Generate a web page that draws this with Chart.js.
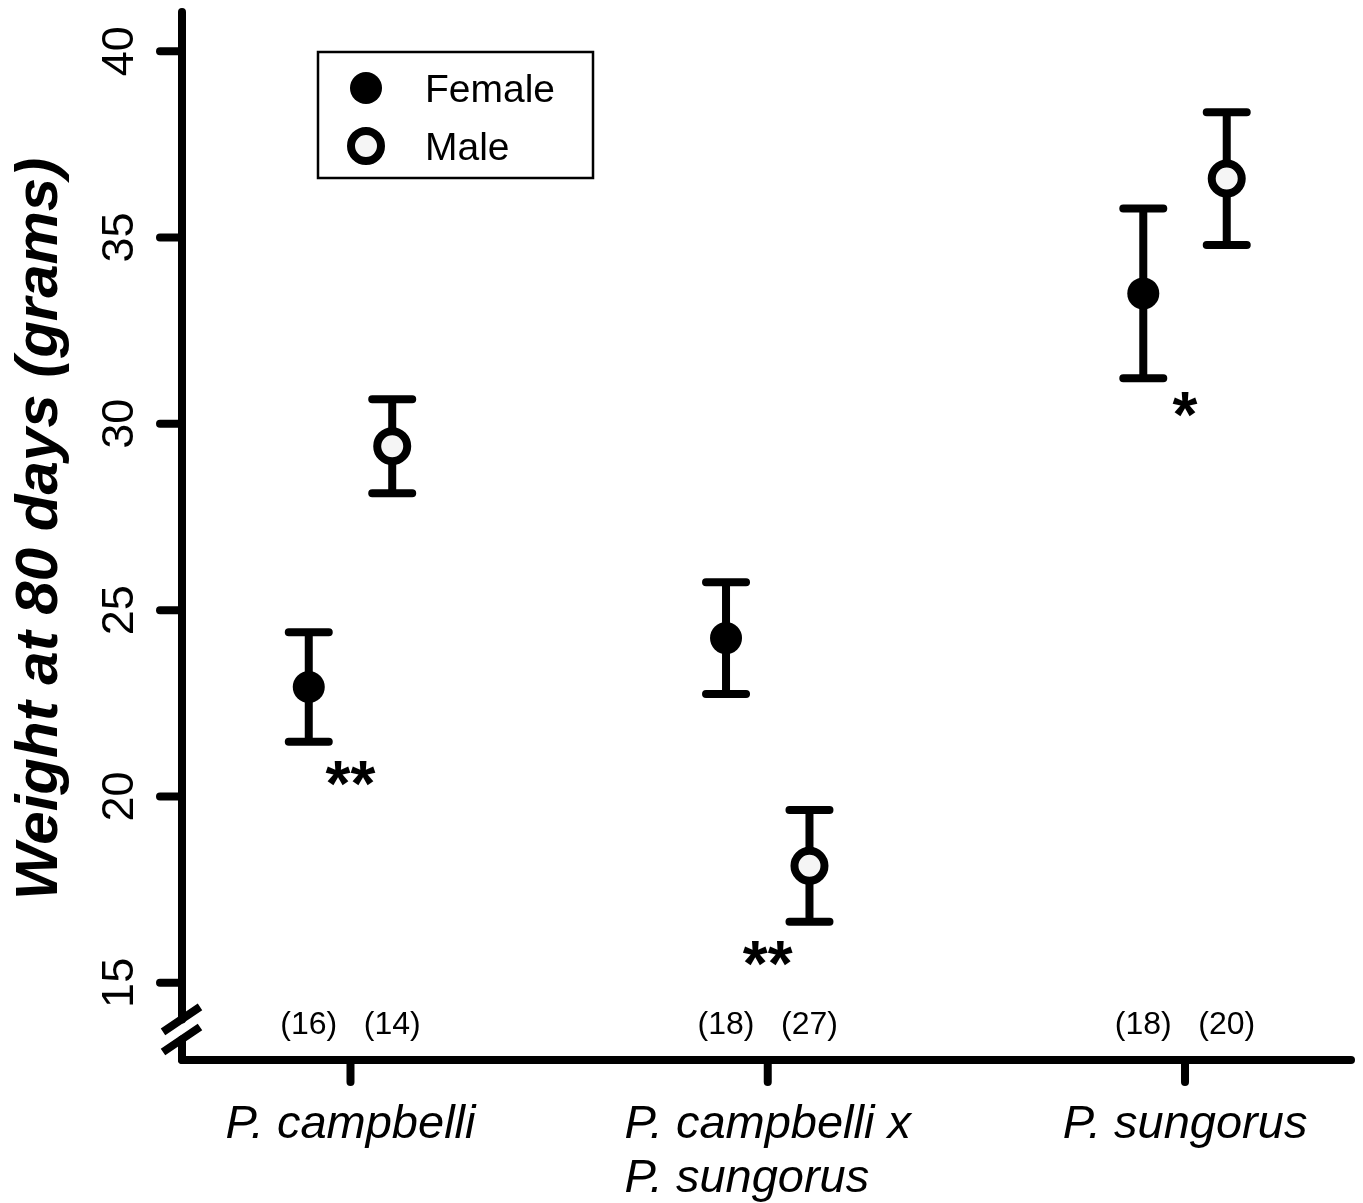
<!DOCTYPE html>
<html>
<head>
<meta charset="utf-8">
<script src="https://cdn.jsdelivr.net/npm/chart.js@4.4.1/dist/chart.umd.min.js"></script>
<style>
  html, body { margin: 0; padding: 0; background: #fff; }
  canvas { display: block; }
</style>
</head>
<body>
<canvas id="weightChart" width="1363" height="1203"></canvas>
<script>
// values
const species = [["P. campbelli"], ["P. campbelli x", "P. sungorus"], ["P. sungorus"]];
const femaleMean = [22.94, 24.25, 33.5];
const femaleErr = [1.47, 1.5, 2.28];
const maleMean = [29.4, 18.14, 36.58];
const maleErr = [1.26, 1.5, 1.78];
const femaleN = ["(16)", "(18)", "(18)"];
const maleN = ["(14)", "(27)", "(20)"];
const sigMarks = ["**", "**", "*"];
const sigY = [20.63, 15.78, 30.53];
const yTicks = [15, 20, 25, 30, 35, 40];

const dodge = 0.1;
const nLabelY = 13.95;
const breakVals = [13.48, 14.02];
const FONT = "'Liberation Sans', Arial, sans-serif";
const INK = "#000";

const toPoints = (means, shift) => means.map((m, i) => ({ x: i + 1 + shift, y: m }));

const errorBars = {
  id: "errorBars",
  beforeDatasetsDraw(chart) {
    const { ctx, scales: { x, y } } = chart;
    const groups = [
      [femaleMean, femaleErr, -dodge],
      [maleMean, maleErr, dodge],
    ];
    ctx.save();
    ctx.strokeStyle = INK;
    ctx.lineWidth = 8;
    ctx.lineCap = "round";
    groups.forEach(([means, errs, shift]) => {
      means.forEach((m, i) => {
        const px = x.getPixelForValue(i + 1 + shift);
        const top = y.getPixelForValue(m + errs[i]);
        const bot = y.getPixelForValue(m - errs[i]);
        ctx.beginPath();
        ctx.moveTo(px, top); ctx.lineTo(px, bot);
        ctx.moveTo(px - 20, top); ctx.lineTo(px + 20, top);
        ctx.moveTo(px - 20, bot); ctx.lineTo(px + 20, bot);
        ctx.stroke();
      });
    });
    ctx.restore();
  },
};

const decorations = {
  id: "decorations",
  afterDraw(chart) {
    const { ctx, chartArea: area, scales: { x, y } } = chart;
    ctx.save();
    ctx.strokeStyle = INK;
    ctx.fillStyle = INK;
    ctx.lineWidth = 8;
    ctx.lineCap = "round";

    // y axis with break
    const ax = area.left;
    const bHigh = y.getPixelForValue(breakVals[1]);
    const bLow = y.getPixelForValue(breakVals[0]);
    ctx.beginPath();
    ctx.moveTo(ax, area.top); ctx.lineTo(ax, bHigh);
    ctx.moveTo(ax, bLow); ctx.lineTo(ax, area.bottom);
    ctx.stroke();
    ctx.lineCap = "butt";
    ctx.beginPath();
    [bHigh, bLow].forEach((by) => {
      ctx.moveTo(ax - 19, by + 12.5);
      ctx.lineTo(ax + 18, by - 12.5);
    });
    ctx.stroke();
    ctx.lineCap = "round";

    // x axis
    ctx.beginPath();
    ctx.moveTo(ax, area.bottom); ctx.lineTo(area.right - 4, area.bottom);
    ctx.stroke();

    // y ticks + rotated labels
    ctx.font = `45px ${FONT}`;
    ctx.textAlign = "center";
    ctx.textBaseline = "alphabetic";
    yTicks.forEach((t) => {
      const py = y.getPixelForValue(t);
      ctx.beginPath();
      ctx.moveTo(ax, py); ctx.lineTo(ax - 22, py);
      ctx.stroke();
      ctx.save();
      ctx.translate(ax - 49, py);
      ctx.rotate(-Math.PI / 2);
      ctx.fillText(String(t), 0, 0);
      ctx.restore();
    });

    // x ticks + category labels
    ctx.font = `italic 47px ${FONT}`;
    species.forEach((lines, i) => {
      const px = x.getPixelForValue(i + 1);
      ctx.beginPath();
      ctx.moveTo(px, area.bottom); ctx.lineTo(px, area.bottom + 22);
      ctx.stroke();
      const left = px - ctx.measureText(lines[0]).width / 2;
      ctx.textAlign = "left";
      lines.forEach((line, k) => {
        ctx.fillText(line, left, area.bottom + 78 + k * 54);
      });
    });

    // axis title
    ctx.save();
    ctx.font = `italic bold 60px ${FONT}`;
    ctx.textAlign = "center";
    ctx.translate(57, 529);
    ctx.rotate(-Math.PI / 2);
    ctx.fillText("Weight at 80 days (grams)", 0, 0);
    ctx.restore();

    // sample sizes
    ctx.font = `32px ${FONT}`;
    ctx.textAlign = "center";
    const ny = y.getPixelForValue(nLabelY);
    species.forEach((_, i) => {
      ctx.fillText(femaleN[i], x.getPixelForValue(i + 1 - dodge), ny + 12);
      ctx.fillText(maleN[i], x.getPixelForValue(i + 1 + dodge), ny + 12);
    });

    // significance marks, centred on their visible box
    ctx.font = `bold 64px ${FONT}`;
    sigMarks.forEach((s, i) => {
      const m = ctx.measureText(s);
      const cy = y.getPixelForValue(sigY[i]);
      const base = cy + (m.actualBoundingBoxAscent - m.actualBoundingBoxDescent) / 2;
      ctx.fillText(s, x.getPixelForValue(i + 1), base);
    });

    // legend
    ctx.lineWidth = 2.5;
    ctx.strokeRect(318, 52, 275, 126);
    const ds = chart.data.datasets;
    [88, 146].forEach((ly, k) => {
      const d = ds[k];
      ctx.beginPath();
      ctx.arc(366, ly, d.pointRadius, 0, Math.PI * 2);
      ctx.fillStyle = d.backgroundColor;
      ctx.fill();
      if (d.borderWidth) {
        ctx.lineWidth = d.borderWidth;
        ctx.strokeStyle = d.borderColor;
        ctx.stroke();
      }
      ctx.fillStyle = INK;
      ctx.font = `39px ${FONT}`;
      ctx.textAlign = "left";
      ctx.fillText(d.label, 425, ly + 14);
    });

    ctx.restore();
  },
};

new Chart(document.getElementById("weightChart"), {
  type: "scatter",
  data: {
    datasets: [
      {
        label: "Female",
        data: toPoints(femaleMean, -dodge),
        pointRadius: 16,
        pointHoverRadius: 16,
        backgroundColor: INK,
        borderColor: INK,
        borderWidth: 0,
      },
      {
        label: "Male",
        data: toPoints(maleMean, dodge),
        pointRadius: 15,
        pointHoverRadius: 15,
        backgroundColor: "#f5f5f5",
        borderColor: INK,
        borderWidth: 8,
      },
    ],
  },
  options: {
    responsive: false,
    animation: false,
    events: [],
    layout: { autoPadding: false, padding: { left: 182, right: 8, top: 12, bottom: 143 } },
    plugins: { legend: { display: false }, tooltip: { enabled: false } },
    scales: {
      x: { type: "linear", min: 0.5962, max: 3.4074, display: false },
      y: { type: "linear", min: 12.93, max: 41.05, display: false },
    },
  },
  plugins: [errorBars, decorations],
});
</script>
</body>
</html>
